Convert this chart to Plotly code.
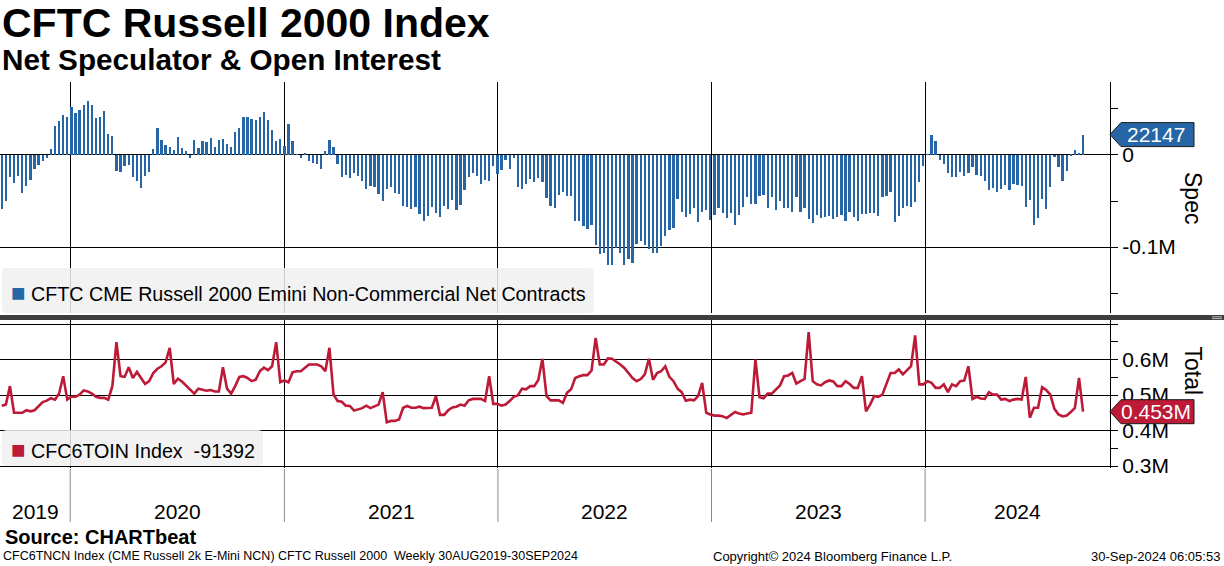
import pandas as pd
import plotly.graph_objects as go

W, H = 1224, 566
H_LAYOUT = 576

# ---------------- data ----------------
dates = pd.date_range("2019-09-06", periods=265, freq="7D")

# Net non-commercial contracts (thousands)
spec_k = [
    -58.7, -50, -23.5, -30, -22.5, -41, -34, -27, -15, -10.5,
    -7, -3, 6.5, 31, 37, 43.5, 41, 52, 45.5, 49,
    54, 59, 54, 40.5, 41, 48, 23, 20.5, -17, -19,
    -12.5, -10.5, -23.5, -28, -35.5, -22.5, -18, 6.5, 29, 16,
    11, 8.7, 5.4, 19.5, 7.6, 4.3, -3, 16, 7.6, 15,
    14, 18.5, 8.7, 16, 17.4, 12, 8.7, 25, 29, 41,
    41, 39, 38, 41, 47, 38, 27, 15, 17.4, 9.8,
    34, 15, 1, -3.6,
    2, -7, -8.3, -9.4, -15, 4.3, 16, 8.7, -9.4, -23.5,
    -21.4, -24.6, -19.2, -22.5, -28, -36.6, -33.3, -34.4, -42, -49.6,
    -36.6, -34.4, -40.9, -42, -55, -56, -58.3, -56, -63.8, -71.4,
    -66, -56, -62.7, -67, -55, -58.3, -48.6, -59.4, -54, -37.7,
    -23.5, -19.2, -22.5, -31.2, -26.8, -28, -11.6, -20.3, -16, -5,
    -15, -3, -34.4, -36.6, -31.2, -25.7, -29, -24.6, -29, -46.4,
    -55, -57.2, -43, -39.9, -44.2, -44.2, -71.4, -71.4, -76.8, -80,
    -75.7, -97.5, -108, -106, -120,
    -119, -100.7, -106, -120, -113, -117, -96.4, -93, -97.5, -101.8,
    -107, -107, -99.3, -87.7, -81.2, -79, -47.5, -61.6, -67, -63.8,
    -57.2, -72.5, -62.3, -59.4, -70.3, -64.9, -57.2, -62.7, -68, -62.7,
    -75.7, -64.9, -56, -45.3, -52.9, -52.9, -44.2, -43, -57.2, -45.3,
    -59.4, -49.6, -57.2, -57.2, -61.6, -46, -61.6, -57.2, -69.2, -73.6,
    -64.9, -68, -67, -66, -69.2, -67, -64.9, -71.4, -61.6, -67,
    -71.4, -63.8, -63.8, -62.7, -62.7, -66, -45.3, -44.2, -39.9, -72.5,
    -66, -57.2, -55, -56, -50.7, -29, -11.6,
    0.5, 21.7, 15, -5, -9.4, -19.2, -23.5, -23.5, -18, -22.5,
    -19.2, -12.7, -21.4, -22.5, -28, -37.7, -35.5, -39.9, -36.6, -32.2,
    -37.7, -31.2, -32.2, -33.3, -56, -48.6, -75.7, -68, -47.5, -58.3,
    -34.4, -2.5, -12.7, -28, -17, -1, 5.4, 2, 22.147,
]

# Total open interest (thousands)
oi_k = [
    470, 473, 525, 450, 450, 450, 457, 454, 457, 470,
    480, 484, 491, 487, 504, 553, 487, 495, 495, 501,
    513, 510, 504, 495, 492, 492, 487, 525, 649, 553,
    551, 578, 548, 565, 546, 531, 539, 562, 574, 581,
    592, 633, 531, 546, 538, 525, 515, 504, 518, 515,
    512, 514, 510, 510, 578, 518, 504, 525, 551, 553,
    548, 539, 543, 567, 577, 570, 581, 649, 536, 541,
    536, 564, 567, 567, 577, 586,
    586, 586, 581, 567, 633, 501, 483, 481, 470, 469,
    456, 460, 463, 470, 463, 468, 473, 508, 423, 427,
    427, 431, 464, 469, 464, 464, 467, 463, 464, 464,
    497, 444, 444, 457, 465, 467, 473, 470, 485, 489,
    489, 489, 483, 553, 475, 475, 470, 473, 483, 495,
    499, 518, 516, 525, 525, 542, 602, 497, 485, 485,
    485, 478, 506, 516, 548, 553, 556, 556, 569, 661,
    586, 586, 603, 602, 595, 586,
    576, 562, 548, 539, 545, 558, 602, 543, 562, 567,
    581, 551, 539, 518, 508, 484, 487, 485, 497, 534,
    450, 445, 442, 442, 440, 435, 443, 452, 448, 445,
    448, 450, 600, 494, 491, 504, 504, 516, 527, 553,
    555, 562, 532, 539, 545, 677, 539, 530, 527, 536,
    541, 538, 525, 525, 539, 531, 520, 520, 553, 454,
    473, 497, 495, 501, 530, 562, 562, 572, 558, 570,
    581, 668, 530,
    530, 539, 534, 520, 520, 530, 508, 530, 525, 539,
    541, 581, 489, 495, 490, 489, 508, 501, 501, 487,
    489, 483, 487, 489, 487, 551, 436, 464, 464, 522,
    514, 501, 461, 445, 440, 442, 452, 464, 548, 453,
]

year_labels = ["2019", "2020", "2021", "2022", "2023", "2024"]
spec_ticks = [0, -100000]
spec_ticktext = ["0", "-0.1M"]
oi_ticks = [300000, 400000, 500000, 600000, 700000]
oi_ticktext = ["0.3M", "0.4M", "0.5M", "0.6M", ""]

spec = [v * 1000 for v in spec_k]
oi = [v * 1000 for v in oi_k]

# ---------------- helpers ----------------
def fx(px):
    return px / W

def fy(py):
    return 1 - py / H

BLUE = "#2766a6"
RED = "#bd1a37"
FONT = "Liberation Sans"

x_start = pd.Timestamp("2019-09-03")
x_end = pd.Timestamp("2024-11-12")
year_starts = [pd.Timestamp(f"{y}-01-01") for y in range(2020, 2025)]

top_dom = [fy(313), fy(82)]
bot_dom = [fy(468), fy(318)]
top_range = [-171700, 79300]
bot_range = [294400, 716900]

fig = go.Figure()
fig.add_trace(go.Bar(x=dates, y=spec, marker=dict(color=BLUE, line=dict(width=0)),
                     width=3.9 * 86400000, xaxis="x", yaxis="y", showlegend=False))
fig.add_trace(go.Scatter(x=dates, y=oi, mode="lines", line=dict(color=RED, width=2.6),
                         xaxis="x2", yaxis="y2", showlegend=False))

xcommon = dict(range=[x_start, x_end], domain=[0, fx(1110)], tickvals=year_starts,
               showticklabels=False, showgrid=True, gridcolor="black", gridwidth=1,
               zeroline=False, showline=False, ticks="")

fig.update_layout(
    width=W, height=H_LAYOUT, autosize=False, margin=dict(l=0, r=0, t=0, b=H_LAYOUT - H),
    paper_bgcolor="white", plot_bgcolor="white",
    font=dict(family=FONT, color="black"),
    bargap=0,
    xaxis=dict(anchor="y", **xcommon),
    xaxis2=dict(anchor="y2", matches="x", **xcommon),
    yaxis=dict(domain=top_dom, range=top_range, side="right", anchor="x",
               tickvals=spec_ticks, ticktext=spec_ticktext,
               showgrid=True, gridcolor="black", gridwidth=1, zeroline=False,
               showline=True, linecolor="black", linewidth=1,
               ticks="outside", ticklen=7, tickcolor="black",
               minor=dict(tickvals=[50000, -50000, -150000], ticks="outside", ticklen=7,
                          tickcolor="black", showgrid=False),
               tickfont=dict(size=21, family=FONT)),
    yaxis2=dict(domain=bot_dom, range=bot_range, side="right", anchor="x2",
                tickvals=oi_ticks, ticktext=oi_ticktext,
                showgrid=True, gridcolor="black", gridwidth=1, zeroline=False,
                showline=True, linecolor="black", linewidth=1,
                ticks="outside", ticklen=7, tickcolor="black",
                minor=dict(tickvals=[350000, 450000, 550000, 650000], ticks="outside",
                           ticklen=7, tickcolor="black", showgrid=False),
                tickfont=dict(size=21, family=FONT)),
)

shapes = []
annotations = []

def rrect_path(x0, y0, x1, y1, r):
    p = [
        f"M {fx(x0 + r)},{fy(y0)}",
        f"L {fx(x1 - r)},{fy(y0)}",
        f"Q {fx(x1)},{fy(y0)} {fx(x1)},{fy(y0 + r)}",
        f"L {fx(x1)},{fy(y1 - r)}",
        f"Q {fx(x1)},{fy(y1)} {fx(x1 - r)},{fy(y1)}",
        f"L {fx(x0 + r)},{fy(y1)}",
        f"Q {fx(x0)},{fy(y1)} {fx(x0)},{fy(y1 - r)}",
        f"L {fx(x0)},{fy(y0 + r)}",
        f"Q {fx(x0)},{fy(y0)} {fx(x0 + r)},{fy(y0)}",
        "Z",
    ]
    return " ".join(p)

# legend boxes
shapes.append(dict(type="path", xref="paper", yref="paper", path=rrect_path(2, 268, 594, 313, 5),
                   fillcolor="rgba(240,240,240,0.85)", line=dict(width=0), layer="above"))
shapes.append(dict(type="path", xref="paper", yref="paper", path=rrect_path(2, 430, 263, 466, 5),
                   fillcolor="rgba(240,240,240,0.85)", line=dict(width=0), layer="above"))
annotations.append(dict(xref="paper", yref="paper", x=fx(9), y=fy(292), xanchor="left", yanchor="middle",
                        showarrow=False,
                        text=f"<span style='color:{BLUE};font-size:24px'>■</span> CFTC CME Russell 2000 Emini Non-Commercial Net Contracts",
                        font=dict(size=19.7, family=FONT)))
annotations.append(dict(xref="paper", yref="paper", x=fx(9), y=fy(449), xanchor="left", yanchor="middle",
                        showarrow=False,
                        text=f"<span style='color:{RED};font-size:24px'>■</span> CFC6TOIN Index  -91392",
                        font=dict(size=19.7, family=FONT)))

# panel separator
shapes.append(dict(type="rect", xref="paper", yref="paper", x0=0, x1=1, y0=fy(320), y1=fy(315),
                   fillcolor="#3d3d3d", line=dict(width=0), layer="above"))
shapes.append(dict(type="line", xref="paper", yref="paper", x0=fx(1212), x1=fx(1222), y0=fy(316.8), y1=fy(316.8),
                   line=dict(color="#bbbbbb", width=1), layer="above"))
shapes.append(dict(type="line", xref="paper", yref="paper", x0=fx(1212), x1=fx(1222), y0=fy(318.6), y1=fy(318.6),
                   line=dict(color="#bbbbbb", width=1), layer="above"))

# year separators and labels in the axis strip
bounds = [x_start] + year_starts + [x_end]
for ys in year_starts:
    shapes.append(dict(type="line", xref="x", yref="paper", x0=ys, x1=ys, y0=fy(522), y1=fy(469),
                       line=dict(color="#8a8a8a", width=1)))
for i, lab in enumerate(year_labels):
    mid = bounds[i] + (bounds[i + 1] - bounds[i]) / 2
    annotations.append(dict(xref="x", yref="paper", x=mid, y=fy(511), xanchor="center", yanchor="middle",
                            showarrow=False, text=lab, font=dict(size=21, family=FONT)))

# value tags
def tag(value, yref, rng, dom_px, color, text):
    upp = (rng[1] - rng[0]) / dom_px  # data units per pixel
    hh = 12 * upp
    x_tip, x_body, x_end_ = fx(1110), fx(1121), fx(1194)
    path = (f"M {x_tip},{value} L {x_body},{value + hh} L {x_end_},{value + hh} "
            f"L {x_end_},{value - hh} L {x_body},{value - hh} Z")
    shapes.append(dict(type="path", xref="paper", yref=yref, path=path, fillcolor=color,
                       line=dict(color="#1a1a1a", width=1), layer="above"))
    annotations.append(dict(xref="paper", yref=yref, x=fx(1156), y=value, xanchor="center",
                            yanchor="middle", showarrow=False, text=text,
                            font=dict(size=21, color="white", family=FONT)))

tag(spec[-1], "y", top_range, 313 - 82, BLUE, f"{round(spec[-1])}")
tag(oi[-1], "y2", bot_range, 468 - 318, RED, f"{oi[-1] / 1e6:.3f}M")

# axis titles
annotations.append(dict(xref="paper", yref="paper", x=fx(1208), y=fy(198), textangle=90,
                        showarrow=False, text="Spec", font=dict(size=23, family=FONT)))
annotations.append(dict(xref="paper", yref="paper", x=fx(1208), y=fy(397), textangle=90,
                        showarrow=False, text="Total", font=dict(size=23, family=FONT)))

# titles
annotations.append(dict(xref="paper", yref="paper", x=fx(0), y=fy(23), xanchor="left", yanchor="middle",
                        showarrow=False, text="<b>CFTC Russell 2000 Index</b>",
                        font=dict(size=41, family=FONT)))
annotations.append(dict(xref="paper", yref="paper", x=fx(0), y=fy(60), xanchor="left", yanchor="middle",
                        showarrow=False, text="<b>Net Speculator &amp; Open Interest</b>",
                        font=dict(size=29.7, family=FONT)))

# footer
annotations.append(dict(xref="paper", yref="paper", x=fx(3), y=fy(537), xanchor="left", yanchor="middle",
                        showarrow=False, text="<b>Source: CHARTbeat</b>", font=dict(size=20, family=FONT)))
annotations.append(dict(xref="paper", yref="paper", x=fx(1), y=fy(556), xanchor="left", yanchor="middle",
                        showarrow=False,
                        text="CFC6TNCN Index (CME Russell 2k E-Mini NCN) CFTC Russell 2000  Weekly 30AUG2019-30SEP2024",
                        font=dict(size=12.5, family=FONT)))
annotations.append(dict(xref="paper", yref="paper", x=fx(711), y=fy(556), xanchor="left", yanchor="middle",
                        showarrow=False, text="Copyright© 2024 Bloomberg Finance L.P.",
                        font=dict(size=13, family=FONT)))
annotations.append(dict(xref="paper", yref="paper", x=fx(1222), y=fy(556), xanchor="right", yanchor="middle",
                        showarrow=False, text="30-Sep-2024 06:05:53",
                        font=dict(size=13, family=FONT)))

fig.update_layout(shapes=shapes, annotations=annotations)
fig.write_html("out.html",
               config={"displayModeBar": False, "responsive": False},
               post_script="document.body.style.margin='0';document.body.style.overflow='hidden';")
